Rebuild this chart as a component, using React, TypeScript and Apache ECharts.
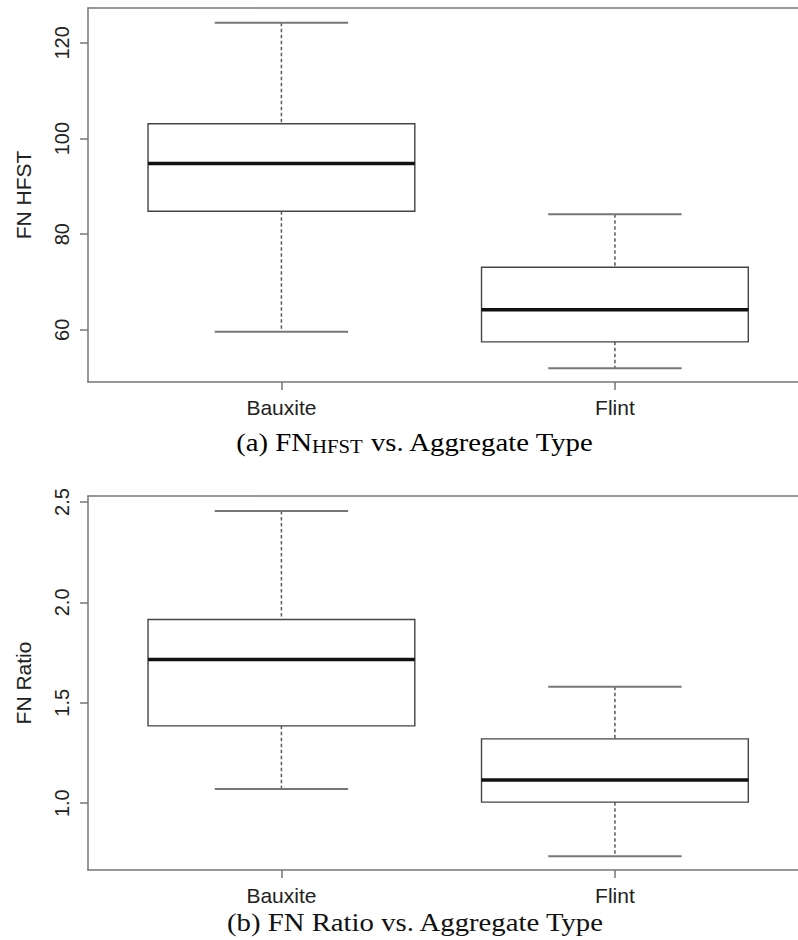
import React, { useEffect, useRef } from "react";
import * as echarts from "echarts";

const categories = ["Bauxite", "Flint"];
const categoryPositions = [1, 2];
// five-number summaries: [lower whisker, Q1, median, Q3, upper whisker]
const fnHfstBauxite = [59.6, 84.8, 94.8, 103.1, 124.2];
const fnHfstFlint = [52.0, 57.5, 64.2, 73.1, 84.2];
const fnRatioBauxite = [1.07, 1.385, 1.715, 1.915, 2.455];
const fnRatioFlint = [0.736, 1.005, 1.115, 1.32, 1.58];
const hfstTicks = [60, 80, 100, 120];
const ratioTicks = [1.0, 1.5, 2.0, 2.5];
const hfstRange = [49.1, 127.3];
const ratioRange = [0.667, 2.53];
const xRange = [0.42, 2.549];
const captionA = ["(a) FN", "HFST", " vs. Aggregate Type"];
const captionB = "(b) FN Ratio vs. Aggregate Type";
const yNames = ["FN HFST", "FN Ratio"];

const SANS = "'Liberation Sans', Arial, sans-serif";
const SERIF = "'Liberation Serif', 'Times New Roman', serif";
const TEXT = "#222";
const FRAME = "#767676";
const frameLine = { show: true, onZero: false, lineStyle: { color: FRAME, width: 1.5 } };

function renderBox(params: any, api: any) {
  const x = api.value(0);
  const lo = api.value(1);
  const q1 = api.value(2);
  const med = api.value(3);
  const q3 = api.value(4);
  const hi = api.value(5);
  const c = api.coord([x, med]);
  const cx = c[0];
  const yLo = api.coord([x, lo])[1];
  const yQ1 = api.coord([x, q1])[1];
  const yMed = c[1];
  const yQ3 = api.coord([x, q3])[1];
  const yHi = api.coord([x, hi])[1];
  const bl = api.coord([x - 0.4, med])[0];
  const br = api.coord([x + 0.4, med])[0];
  const cl = api.coord([x - 0.2, med])[0];
  const cr = api.coord([x + 0.2, med])[0];
  const dashStyle = { stroke: "#5a5a5a", lineWidth: 1.5, lineDash: [3.5, 2.5], fill: null };
  const capStyle = { stroke: "#777", lineWidth: 2, fill: null };
  return {
    type: "group",
    children: [
      { type: "line", shape: { x1: cx, y1: yHi, x2: cx, y2: yQ3 }, style: dashStyle },
      { type: "line", shape: { x1: cx, y1: yQ1, x2: cx, y2: yLo }, style: dashStyle },
      { type: "line", shape: { x1: cl, y1: yHi, x2: cr, y2: yHi }, style: capStyle },
      { type: "line", shape: { x1: cl, y1: yLo, x2: cr, y2: yLo }, style: capStyle },
      {
        type: "rect",
        shape: { x: bl, y: yQ3, width: br - bl, height: yQ1 - yQ3 },
        style: { fill: "#fff", stroke: "#444", lineWidth: 1.4 },
      },
      { type: "line", shape: { x1: bl, y1: yMed, x2: br, y2: yMed }, style: { stroke: "#111", lineWidth: 3.5 } },
    ],
  };
}

function makeXAxis(gridIndex: number) {
  return {
    type: "value",
    gridIndex,
    position: "bottom",
    min: xRange[0],
    max: xRange[1],
    axisLine: frameLine,
    splitLine: { show: false },
    axisTick: { show: true, customValues: categoryPositions, length: 8, lineStyle: { color: FRAME, width: 1.5 } },
    axisLabel: {
      customValues: categoryPositions,
      formatter: (v: number) => categories[Math.round(v) - 1] ?? "",
      fontFamily: SANS,
      fontSize: 21,
      color: TEXT,
      margin: 15,
    },
  };
}

function makeTopFrame(gridIndex: number) {
  return {
    type: "value",
    gridIndex,
    position: "top",
    min: xRange[0],
    max: xRange[1],
    axisLine: frameLine,
    splitLine: { show: false },
    axisTick: { show: false },
    axisLabel: { show: false },
  };
}

function makeYAxis(gridIndex: number, range: number[], ticks: number[], name: string, digits: number) {
  return {
    type: "value",
    gridIndex,
    position: "left",
    min: range[0],
    max: range[1],
    name,
    nameLocation: "middle",
    nameRotate: 90,
    nameGap: 54,
    nameTextStyle: { fontFamily: SANS, fontSize: 21, color: TEXT },
    axisLine: frameLine,
    splitLine: { show: false },
    axisTick: { show: true, customValues: ticks, length: 8, lineStyle: { color: FRAME, width: 1.5 } },
    axisLabel: {
      customValues: ticks,
      formatter: (v: number) => v.toFixed(digits),
      rotate: 90,
      fontFamily: SANS,
      fontSize: 20,
      color: TEXT,
      margin: 16,
    },
  };
}

export default function App() {
  const ref = useRef<HTMLDivElement>(null);
  useEffect(() => {
    if (!ref.current) return;
    const chart = echarts.init(ref.current, null, { renderer: "svg" });
    chart.setOption({
      animation: false,
      backgroundColor: "#fff",
      grid: [
        { show: false, left: 88, top: 8, width: 711, height: 374 },
        { show: false, left: 88, top: 496, width: 711, height: 374 },
      ],
      xAxis: [makeXAxis(0), makeXAxis(1), makeTopFrame(0), makeTopFrame(1)],
      yAxis: [
        makeYAxis(0, hfstRange, hfstTicks, yNames[0], 0),
        makeYAxis(1, ratioRange, ratioTicks, yNames[1], 1),
      ],
      series: [
        {
          type: "custom",
          xAxisIndex: 0,
          yAxisIndex: 0,
          renderItem: renderBox,
          encode: { x: 0, y: [1, 2, 3, 4, 5] },
          data: [
            [categoryPositions[0], ...fnHfstBauxite],
            [categoryPositions[1], ...fnHfstFlint],
          ],
        },
        {
          type: "custom",
          xAxisIndex: 1,
          yAxisIndex: 1,
          renderItem: renderBox,
          encode: { x: 0, y: [1, 2, 3, 4, 5] },
          data: [
            [categoryPositions[0], ...fnRatioBauxite],
            [categoryPositions[1], ...fnRatioFlint],
          ],
        },
      ],
      graphic: [
        {
          type: "text",
          x: 415,
          y: 443,
          scaleX: 1.15,
          style: {
            text: `{a|${captionA[0]}}{b|${captionA[1]}}{a|${captionA[2]}}`,
            align: "center",
            verticalAlign: "middle",
            rich: {
              a: { fontFamily: SERIF, fontSize: 25, lineHeight: 25, color: "#111", verticalAlign: "bottom" },
              b: { fontFamily: SERIF, fontSize: 18, lineHeight: 18, color: "#111", verticalAlign: "bottom" },
            },
          },
        },
        {
          type: "text",
          x: 415,
          y: 923,
          scaleX: 1.15,
          style: {
            text: captionB,
            align: "center",
            verticalAlign: "middle",
            fontFamily: SERIF,
            fontSize: 25,
            fill: "#111",
          },
        },
      ],
    });
    return () => chart.dispose();
  }, []);
  return (
    <div
      ref={ref}
      style={{ position: "absolute", left: 0, top: 0, width: 798, height: 940, background: "#fff" }}
    />
  );
}
